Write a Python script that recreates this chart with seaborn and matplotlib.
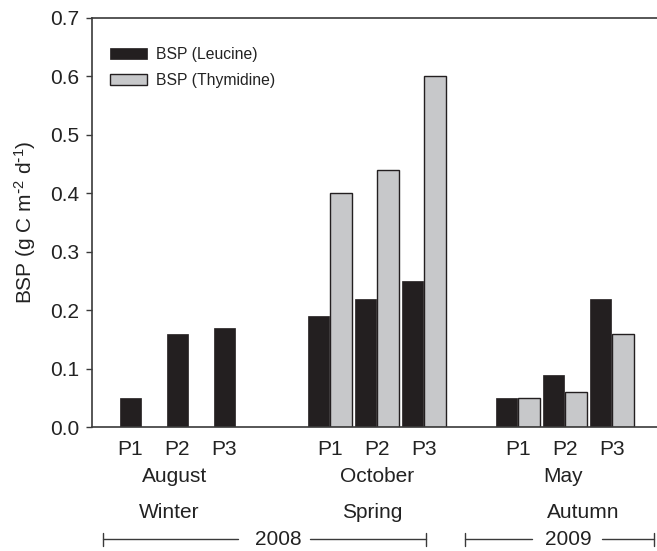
import numpy as np
import pandas as pd
import matplotlib
matplotlib.use("Agg")
import matplotlib.pyplot as plt
from matplotlib.patches import Patch
from matplotlib.lines import Line2D
import seaborn as sns

# ---- data ----
months = ["August", "October", "May"]
seasons = ["Winter", "Spring", "Autumn"]
stations = ["P1", "P2", "P3"]
leucine = {"August": [0.05, 0.16, 0.17],
           "October": [0.19, 0.22, 0.25],
           "May": [0.05, 0.09, 0.22]}
thymidine = {"August": [np.nan, np.nan, np.nan],
             "October": [0.40, 0.44, 0.60],
             "May": [0.05, 0.06, 0.16]}
series = ["BSP (Leucine)", "BSP (Thymidine)"]
years = ["2008", "2009"]
yticks = [0.0, 0.1, 0.2, 0.3, 0.4, 0.5, 0.6, 0.7]

# ---- build table ----
order = []
rows = []
for mi, m in enumerate(months):
    for si, s in enumerate(stations):
        key = f"{m}-{s}"
        order.append(key)
        rows.append({"slot": key, "series": series[0], "value": leucine[m][si]})
        rows.append({"slot": key, "series": series[1], "value": thymidine[m][si]})
    if mi < len(months) - 1:
        order.append(f"gap{mi}")
df = pd.DataFrame(rows)

sns.set_style("ticks")
plt.rcParams["font.family"] = ["Liberation Sans", "DejaVu Sans"]
plt.rcParams["mathtext.default"] = "regular"

dark = "#231f20"
light = "#c7c8ca"
spine_c = "#3a3a3a"
txt_c = "#222222"
FS = 15

fig = plt.figure(figsize=(6.57, 5.51), dpi=100)
ax = fig.add_axes([0.1396, 0.2245, 0.8604, 0.7434])

sns.barplot(data=df, x="slot", y="value", hue="series", order=order,
            hue_order=series, palette=[dark, light], width=0.96, gap=0.05,
            errorbar=None, ax=ax, legend=False, saturation=1)

for bar in ax.containers[0]:
    bar.set_edgecolor(dark)
    bar.set_linewidth(0.5)
for bar in ax.containers[1]:
    bar.set_edgecolor(dark)
    bar.set_linewidth(1.0)

ax.set_ylim(0, 0.7)
ax.set_yticks(yticks)
ax.set_yticklabels([f"{v:.1f}" for v in yticks])
ax.set_xlim(-1.064, 10.96)

# x tick labels (P1..P3)
pos = []
labs = []
for mi, m in enumerate(months):
    for si, s in enumerate(stations):
        c = mi * 4 + si
        if mi == 0:
            c = c - 0.24  # centred on the only bar present
        pos.append(c)
        labs.append(s)
ax.set_xticks(pos)
ax.set_xticklabels(labs)
ax.tick_params(axis="x", length=0, pad=9, labelsize=FS, colors=txt_c)
ax.tick_params(axis="y", length=4, width=1, pad=5, labelsize=FS,
               colors=spine_c, labelcolor=txt_c)
ax.set_xlabel("")
ax.set_ylabel(r"BSP (g C m$^{\text{-}2}$ d$^{\text{-}1}$)", fontsize=FS, color=txt_c)
ax.yaxis.set_label_coords(-0.095, 0.5)

for sp in ["left", "bottom", "top"]:
    ax.spines[sp].set_color(spine_c)
    ax.spines[sp].set_linewidth(1.2)
ax.spines["right"].set_visible(False)

tr = ax.get_xaxis_transform()
month_x = [0.69, 5.0, 8.97]
season_x = [0.58, 4.9, 9.39]
for m, x in zip(months, month_x):
    ax.text(x, -0.1206, m, transform=tr, ha="center", va="center",
            fontsize=FS, color=txt_c, clip_on=False)
for s, x in zip(seasons, season_x):
    ax.text(x, -0.2068, s, transform=tr, ha="center", va="center",
            fontsize=FS, color=txt_c, clip_on=False)

# year bars
yl = -0.2734
tick_h = 0.016
year_spans = [(-0.83, 2.05, 3.58, 6.04, 2.90), (6.88, 8.30, 9.79, 10.89, 9.07)]
for yr, (a, b, c, d, tx) in zip(years, year_spans):
    for x0, x1 in [(a, b), (c, d)]:
        ax.add_line(Line2D([x0, x1], [yl, yl], transform=tr, color=spine_c,
                           lw=1.0, clip_on=False))
    for x0 in (a, d):
        ax.add_line(Line2D([x0, x0], [yl - tick_h, yl + tick_h], transform=tr,
                           color=spine_c, lw=1.0, clip_on=False))
    ax.text(tx, yl, yr, transform=tr, ha="center", va="center",
            fontsize=FS, color=txt_c, clip_on=False)

handles = [Patch(facecolor=dark, edgecolor=dark, lw=0.5),
           Patch(facecolor=light, edgecolor=dark, lw=1.0)]
leg = ax.legend(handles, series, loc="upper left",
                bbox_to_anchor=(0.032, 0.928), frameon=False, fontsize=11.3,
                handlelength=2.34, handleheight=0.7, handletextpad=0.59,
                labelspacing=0.68, borderpad=0, borderaxespad=0)
for t in leg.get_texts():
    t.set_color(txt_c)

fig.savefig("out.png", dpi=100)
